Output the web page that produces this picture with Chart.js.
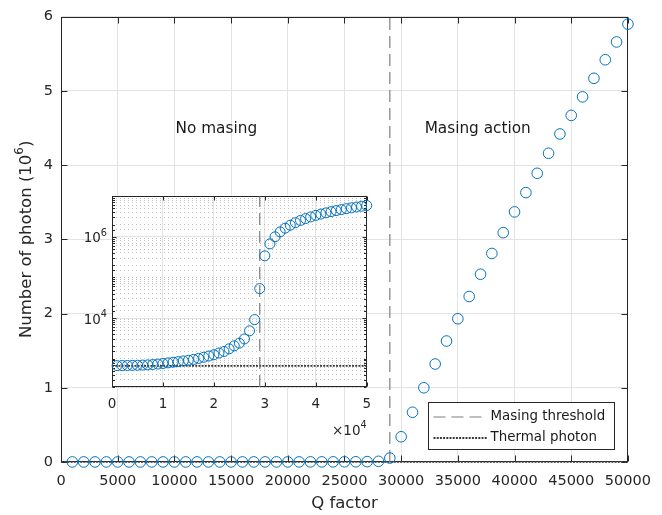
<!DOCTYPE html>
<html>
<head>
<meta charset="utf-8">
<script src="https://cdn.jsdelivr.net/npm/chart.js@4.4.1/dist/chart.umd.min.js"></script>
<style>
  html, body { margin: 0; padding: 0; background: #fff; }
  #wrap { position: relative; width: 662px; height: 515px; }
  #grafico { position: absolute; left: 0; top: 0; }
  #detalhe { position: absolute; left: 60px; top: 186px; }
</style>
</head>
<body>
<div id="wrap">
  <canvas id="grafico" width="662" height="515"></canvas>
  <canvas id="detalhe" width="320" height="258"></canvas>
</div>
<script>
// dados
const qFactor = [1000, 2000, 3000, 4000, 5000, 6000, 7000, 8000, 9000, 10000,
  11000, 12000, 13000, 14000, 15000, 16000, 17000, 18000, 19000, 20000,
  21000, 22000, 23000, 24000, 25000, 26000, 27000, 28000, 29000, 30000,
  31000, 32000, 33000, 34000, 35000, 36000, 37000, 38000, 39000, 40000,
  41000, 42000, 43000, 44000, 45000, 46000, 47000, 48000, 49000, 50000];
const photonCount = [672, 675, 678, 682, 687, 693, 702, 715, 735, 758,
  785, 815, 845, 878, 911, 955, 1010, 1080, 1160, 1250,
  1370, 1500, 1745, 2065, 2400, 3050, 4840, 9150, 53000, 340000,
  670000, 1000000, 1320000, 1630000, 1930000, 2230000, 2530000, 2810000, 3090000, 3370000,
  3630000, 3890000, 4160000, 4420000, 4670000, 4920000, 5170000, 5420000, 5660000, 5900000];
const thresholdQ = 29000;
const thermalPhoton = 665;
const regionLabels = ['No masing', 'Masing action'];
const insetYTicks = [1e4, 1e6];
const insetYExp = ['4', '6'];

const xMax = 50000, yMax = 6;
const insetYMin = 200, insetYMax = 1e7;

const fonte = '"DejaVu Sans", Verdana, sans-serif';
Chart.defaults.font.family = fonte;
Chart.defaults.color = '#262626';

const azul = '#0072BD';
const cinzaGrade = '#e3e3e3';
const corLimiar = '#7f7f7f';
const corTermico = '#3a3a3a';
const corTexto = '#262626';

const ehMaior = v => insetYTicks.some(t => Math.abs(Math.log10(v) - Math.log10(t)) < 1e-6);

// texto com expoente: base + sup + resto
function textoSup(ctx, partes, x, y, tam, align) {
  const tSup = tam * 0.72;
  ctx.font = tam + 'px ' + fonte;
  const w1 = ctx.measureText(partes[0]).width;
  const w3 = ctx.measureText(partes[2] || '').width;
  ctx.font = tSup + 'px ' + fonte;
  const w2 = ctx.measureText(partes[1]).width;
  const total = w1 + w2 + w3;
  let x0 = x;
  if (align === 'center') x0 = x - total / 2;
  if (align === 'right') x0 = x - total;
  ctx.textAlign = 'left';
  ctx.textBaseline = 'middle';
  ctx.fillStyle = corTexto;
  ctx.font = tam + 'px ' + fonte;
  ctx.fillText(partes[0], x0, y);
  ctx.font = tSup + 'px ' + fonte;
  ctx.fillText(partes[1], x0 + w1, y - tam * 0.42);
  if (partes[2]) {
    ctx.font = tam + 'px ' + fonte;
    ctx.fillText(partes[2], x0 + w1 + w2, y);
  }
}

// fundo branco so na area do grafico pequeno
const fundoBranco = {
  id: 'fundoBranco',
  beforeDraw(chart) {
    const {ctx, chartArea: a} = chart;
    ctx.save();
    ctx.fillStyle = '#fff';
    ctx.fillRect(a.left, a.top, a.right - a.left, a.bottom - a.top);
    ctx.restore();
  }
};

// caixa em volta + marcas para dentro
const moldura = {
  id: 'moldura',
  beforeDatasetsDraw(chart, args, opts) {
    const {ctx, chartArea: a, scales} = chart;
    const l = Math.round(a.left) + 0.5, r = Math.round(a.right) - 0.5;
    const t = Math.round(a.top) + 0.5, b = Math.round(a.bottom) - 0.5;
    ctx.save();
    ctx.strokeStyle = '#262626';
    ctx.lineWidth = 1;
    ctx.beginPath();
    scales.x.ticks.forEach(tk => {
      const px = Math.round(scales.x.getPixelForValue(tk.value)) + 0.5;
      ctx.moveTo(px, b); ctx.lineTo(px, b - opts.maior);
      ctx.moveTo(px, t); ctx.lineTo(px, t + opts.maior);
    });
    scales.y.ticks.forEach(tk => {
      const py = Math.round(scales.y.getPixelForValue(tk.value)) + 0.5;
      const len = (opts.log && !ehMaior(tk.value)) ? opts.menor : opts.maior;
      ctx.moveTo(l, py); ctx.lineTo(l + len, py);
      ctx.moveTo(r, py); ctx.lineTo(r - len, py);
    });
    ctx.stroke();
    ctx.strokeRect(l, t, r - l, b - t);
    ctx.restore();
  }
};

// textos dentro do grafico e titulo do eixo y
const rotulos = {
  id: 'rotulos',
  afterDraw(chart, args, opts) {
    const {ctx, scales, chartArea: a} = chart;
    ctx.save();
    ctx.font = '15.3px ' + fonte;
    ctx.fillStyle = '#1a1a1a';
    ctx.textAlign = 'center';
    ctx.textBaseline = 'middle';
    opts.itens.forEach(it => {
      ctx.fillText(it.texto, scales.x.getPixelForValue(it.x), scales.y.getPixelForValue(it.y));
    });
    ctx.translate(27, (a.top + a.bottom) / 2);
    ctx.rotate(-Math.PI / 2);
    textoSup(ctx, ['Number of photon (10', '6', ')'], 0, 0, 16.5, 'center');
    ctx.restore();
  }
};

// rotulos do eixo log e o fator x10^4
const rotulosLog = {
  id: 'rotulosLog',
  afterDraw(chart) {
    const {ctx, scales, chartArea: a} = chart;
    ctx.save();
    insetYTicks.forEach((v, i) => {
      textoSup(ctx, ['10', insetYExp[i], ''], a.left - 5, scales.y.getPixelForValue(v) + 2, 13.5, 'right');
    });
    textoSup(ctx, ['\u00d710', '4', ''], a.right, a.bottom + 44, 13.5, 'right');
    ctx.restore();
  }
};

// legenda com caixa no canto de baixo
const legendaCaixa = {
  id: 'legendaCaixa',
  afterDraw(chart, args, opts) {
    const {ctx, chartArea: a} = chart;
    const sets = opts.datasets.map(i => chart.data.datasets[i]);
    ctx.save();
    ctx.font = '13.4px ' + fonte;
    const largTexto = Math.max(...sets.map(d => ctx.measureText(d.label).width));
    const w = Math.round(62 + largTexto + 9), h = 47;
    const x0 = Math.round(a.right - 14 - w) + 0.5, y0 = Math.round(a.bottom - 13 - h) + 0.5;
    ctx.fillStyle = '#fff';
    ctx.fillRect(x0, y0, w, h);
    ctx.strokeStyle = '#262626';
    ctx.lineWidth = 1;
    ctx.strokeRect(x0, y0, w, h);
    sets.forEach((d, i) => {
      const yy = y0 + 14.5 + i * 21;
      ctx.strokeStyle = d.borderColor;
      ctx.lineWidth = d.borderWidth;
      ctx.setLineDash(d.borderDash);
      ctx.beginPath();
      ctx.moveTo(x0 + 5, yy); ctx.lineTo(x0 + 59, yy);
      ctx.stroke();
      ctx.setLineDash([]);
      ctx.fillStyle = '#1a1a1a';
      ctx.textBaseline = 'middle';
      ctx.fillText(d.label, x0 + 62, yy);
    });
    ctx.restore();
  }
};

// Grafico principal
new Chart(document.getElementById('grafico'), {
  type: 'scatter',
  data: {
    datasets: [{
      label: 'Number of photon',
      data: qFactor.map((q, i) => ({x: q, y: photonCount[i] / 1e6})),
      pointRadius: 5.3,
      pointBorderWidth: 1,
      pointBorderColor: azul,
      pointBackgroundColor: 'rgba(0,0,0,0)',
      clip: false,
      order: 0
    }, {
      label: 'Masing threshold',
      data: [{x: thresholdQ, y: 0}, {x: thresholdQ, y: yMax}],
      showLine: true,
      pointRadius: 0,
      borderColor: corLimiar,
      borderWidth: 1.2,
      borderDash: [12, 6],
      order: 1
    }, {
      label: 'Thermal photon',
      data: [{x: 0, y: thermalPhoton / 1e6}, {x: xMax, y: thermalPhoton / 1e6}],
      showLine: true,
      pointRadius: 0,
      borderColor: corTermico,
      borderWidth: 1.8,
      borderDash: [2, 1.2],
      clip: false,
      order: 2
    }]
  },
  options: {
    responsive: false,
    animation: false,
    events: [],
    layout: {padding: {top: 16, right: 34, left: 0, bottom: 0}},
    plugins: {
      legend: {display: false},
      tooltip: {enabled: false},
      moldura: {maior: 6, menor: 3, log: false},
      rotulos: {itens: [
        {texto: regionLabels[0], x: 13700, y: 4.48},
        {texto: regionLabels[1], x: 36750, y: 4.48}
      ]},
      legendaCaixa: {datasets: [1, 2]}
    },
    scales: {
      x: {
        type: 'linear', min: 0, max: xMax,
        ticks: {stepSize: 5000, callback: v => String(v), font: {size: 14.5}, padding: 11, maxRotation: 0, autoSkip: false},
        grid: {color: cinzaGrade, drawTicks: false},
        border: {display: false},
        title: {display: true, text: 'Q factor', font: {size: 16.5}, padding: {top: 0, bottom: 1}},
        afterFit: s => { s.height = 53; }
      },
      y: {
        min: 0, max: yMax,
        ticks: {stepSize: 1, font: {size: 14.5}, padding: 8},
        grid: {color: cinzaGrade, drawTicks: false},
        border: {display: false},
        afterFit: s => { s.width = 61; }
      }
    }
  },
  plugins: [moldura, rotulos, legendaCaixa]
});

// Grafico pequeno (escala log)
new Chart(document.getElementById('detalhe'), {
  type: 'scatter',
  data: {
    datasets: [{
      label: 'Number of photon',
      data: qFactor.map((q, i) => ({x: q / 1e4, y: photonCount[i]})),
      pointRadius: 5,
      pointBorderWidth: 1,
      pointBorderColor: azul,
      pointBackgroundColor: 'rgba(0,0,0,0)',
      clip: false,
      order: 0
    }, {
      label: 'Masing threshold',
      data: [{x: thresholdQ / 1e4, y: insetYMin}, {x: thresholdQ / 1e4, y: insetYMax}],
      showLine: true,
      pointRadius: 0,
      borderColor: corLimiar,
      borderWidth: 1.2,
      borderDash: [12, 6],
      order: 1
    }, {
      label: 'Thermal photon',
      data: [{x: 0, y: thermalPhoton}, {x: xMax / 1e4, y: thermalPhoton}],
      showLine: true,
      pointRadius: 0,
      borderColor: corTermico,
      borderWidth: 1.8,
      borderDash: [2, 1.2],
      order: 2
    }]
  },
  options: {
    responsive: false,
    animation: false,
    events: [],
    layout: {padding: {top: 8, right: 12, left: 0, bottom: 0}},
    plugins: {
      legend: {display: false},
      tooltip: {enabled: false},
      moldura: {maior: 4, menor: 2.5, log: true}
    },
    scales: {
      x: {
        type: 'linear', min: 0, max: xMax / 1e4,
        ticks: {stepSize: 1, font: {size: 13.5}, padding: 9, maxRotation: 0},
        grid: {color: cinzaGrade, drawTicks: false},
        border: {display: false},
        afterFit: s => { s.height = 57; }
      },
      y: {
        type: 'logarithmic', min: insetYMin, max: insetYMax,
        ticks: {autoSkip: false, callback: () => ''},
        grid: {
          drawTicks: false,
          color: c => (c.tick && ehMaior(c.tick.value)) ? cinzaGrade : '#c2c2c2'
        },
        border: {
          display: false,
          dash: c => (c.tick && ehMaior(c.tick.value)) ? [] : [1, 3]
        },
        afterFit: s => { s.width = 52; }
      }
    }
  },
  plugins: [fundoBranco, moldura, rotulosLog]
});
</script>
</body>
</html>
